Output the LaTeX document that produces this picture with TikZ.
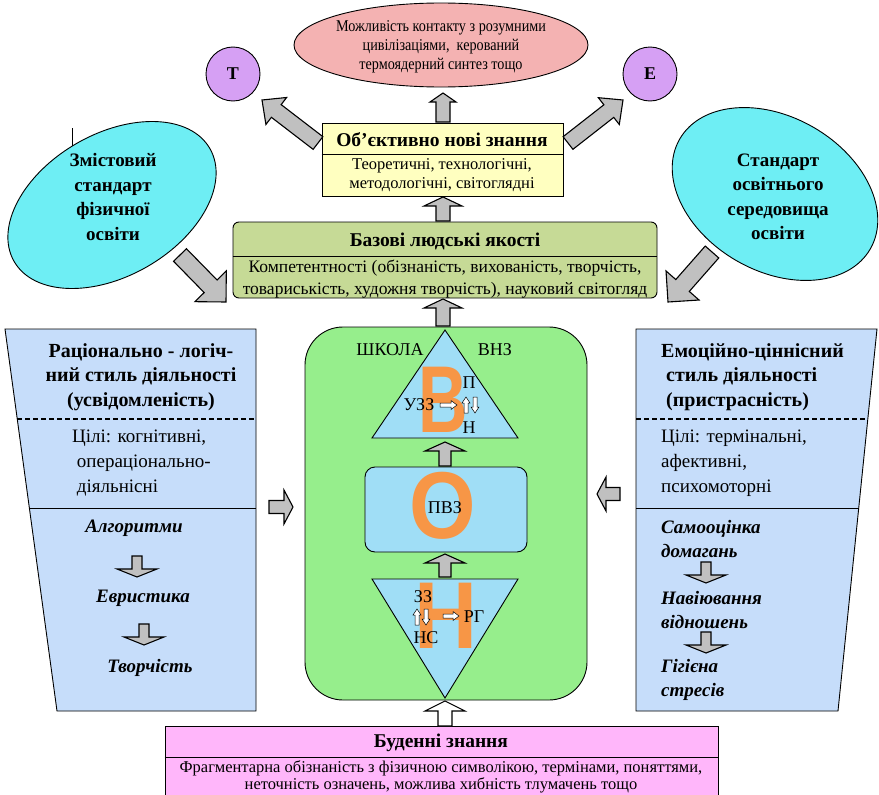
\documentclass[tikz,border=0pt]{standalone}
\usepackage{fontspec}
\setmainfont{Liberation Serif}
\newfontfamily\condfont[FakeStretch=0.86]{Liberation Serif}
\newfontfamily\bigsans{Liberation Sans}
\usetikzlibrary{shapes.geometric,calc}

\definecolor{pinkE}{RGB}{244,178,178}
\definecolor{violetC}{RGB}{214,160,244}
\definecolor{yellowB}{RGB}{255,255,192}
\definecolor{oliveB}{RGB}{198,218,150}
\definecolor{cyanE}{RGB}{110,238,244}
\definecolor{blueP}{RGB}{198,221,250}
\definecolor{greenC}{RGB}{150,238,140}
\definecolor{skyB}{RGB}{160,222,246}
\definecolor{orangeL}{RGB}{247,150,70}
\definecolor{pinkB}{RGB}{255,182,250}
\definecolor{arrgray}{RGB}{192,192,192}

% block arrow: [style]{from}{to}{shaft half}{head half}{head length}
\newcommand\blockarr[6][]{%
  \coordinate (ba-h) at ($(#3)!#6!(#2)$);
  \draw[#1] ($(#2)!#4!90:(#3)$) -- ($(ba-h)!#4!90:(#3)$) -- ($(ba-h)!#5!90:(#3)$)
    -- (#3) -- ($(ba-h)!#5!-90:(#3)$) -- ($(ba-h)!#4!-90:(#3)$) -- ($(#2)!#4!-90:(#3)$) -- cycle;}

\tikzset{
  box/.style={draw=black, line width=0.9pt},
  garrow/.style={draw=black, fill=arrgray, line width=1.1pt, line join=miter},
  warrow/.style={draw=black, fill=white, line width=1.1pt, line join=miter},
  tinyarr/.style={draw=black, fill=white, line width=0.5pt},
  txt/.style={inner sep=0pt, align=center},
  headf/.style={font=\bfseries\fontsize{19.5}{22}\selectfont},
  panelhead/.style={font=\bfseries\fontsize{20}{24.5}\selectfont},
  panelbody/.style={font=\fontsize{19}{25}\selectfont},
  panelit/.style={font=\bfseries\itshape\fontsize{19}{23.5}\selectfont},
  ellt/.style={font=\bfseries\fontsize{19}{24.5}\selectfont},
  bigletter/.style={text=orangeL, inner sep=0pt, font=\bigsans\bfseries\fontsize{95}{95}\selectfont},
  midf/.style={font=\fontsize{18}{20}\selectfont}
}

\begin{document}
\begin{tikzpicture}[x=1pt,y=-1pt]
\useasboundingbox (0,0) rectangle (879,795);
\fill[white] (0,0) rectangle (879,795);

% ---------- top ellipse and circles
\node[ellipse, box, fill=pinkE, minimum width=294pt, minimum height=84pt, inner sep=0pt] (goal) at (441,45) {};
\node[txt, font=\condfont\fontsize{16.5}{19}\selectfont] (goalt) at (441,47)
  {Можливість контакту з розумними\\цивілізаціями,\ \ керований\\термоядерний синтез тощо};
\node[circle, box, fill=violetC, minimum size=54pt, inner sep=0pt, font=\bfseries\fontsize{18}{18}\selectfont] (T) at (233,74) {Т};
\node[circle, box, fill=violetC, minimum size=54pt, inner sep=0pt, font=\bfseries\fontsize{18}{18}\selectfont] (E) at (650,74) {Е};

% ---------- top yellow box
\node[box, fill=yellowB, minimum width=241pt, minimum height=73pt, inner sep=0pt] (obj) at (442.5,159.5) {};
\draw[line width=0.8pt] ($(obj.north west)+(0,32)$) -- ($(obj.north east)+(0,32)$);
\node[txt, headf] (objh) at (442,140) {Об’єктивно нові знання};
\node[txt, font=\fontsize{16.5}{19}\selectfont] (objb) at (442,175) {Теоретичні, технологічні,\\методологічні, світоглядні};

% ---------- olive box
\node[box, fill=oliveB, rounded corners=6pt, minimum width=424pt, minimum height=76pt, inner sep=0pt] (base) at (445,260) {};
\draw[line width=0.8pt] ($(base.north west)+(0,35)$) -- ($(base.north east)+(0,35)$);
\node[txt, headf] (baseh) at (445,241) {Базові людські якості};
\node[txt, font=\fontsize{17.5}{22}\selectfont] (baseb) at (445,279) {Компетентності (обізнаність, вихованість, творчість,\\товариськість, художня творчість), науковий світогляд};

% ---------- cyan ellipses
\node[ellipse, box, fill=cyanE, minimum width=226pt, minimum height=142pt, rotate=30] (stdL) at (112,205) {};
\node[txt, ellt] (stdLt) at (113,197) {Змістовий\\стандарт\\фізичної\\освіти};
\draw[line width=1pt] (72,128) -- (72,146);
\node[ellipse, box, fill=cyanE, minimum width=220pt, minimum height=154pt, rotate=-30] (stdR) at (775,194) {};
\node[txt, ellt] (stdRt) at (778,197) {Стандарт\\освітнього\\середовища\\освіти};

% ---------- left panel
\draw[box, fill=blueP] (5,329) -- (256,329) -- (256,711) -- (57,711) -- cycle;
\draw[line width=1.3pt, dash pattern=on 5pt off 3pt] (17.3,419) -- (256,419);
\draw[line width=0.9pt] (29.4,508) -- (256,508);
\node[txt, panelhead] (lph) at (141,377) {Раціонально - логіч-\\ний стиль діяльності\\(усвідомленість)};
\node[txt, panelbody, anchor=west, align=left] (lpb) at (72,463) {Цілі: когнітивні,\\\ операціонально-\\\ діяльнісні};
\node[txt, panelit] (lpi1) at (134,528) {Алгоритми};
\node[txt, panelit] (lpi2) at (143,598) {Евристика};
\node[txt, panelit] (lpi3) at (150,668) {Творчість};

% ---------- right panel
\draw[box, fill=blueP] (636,329) -- (877,329) -- (838,711) -- (636,711) -- cycle;
\draw[line width=1.3pt, dash pattern=on 5pt off 3pt] (636,419) -- (867.8,419);
\draw[line width=0.9pt] (636,508) -- (858.7,508);
\node[txt, panelhead, anchor=west, align=left] (rph) at (661,377) {Емоційно-ціннісний\\\ стиль діяльності\\\ (пристрасність)};
\node[txt, panelbody, anchor=west, align=left] (rpb) at (661,463) {Цілі: термінальні,\\афективні,\\психомоторні};
\node[txt, panelit, anchor=west, align=left] (rpi1) at (661,539) {Самооцінка\\домагань};
\node[txt, panelit, anchor=west, align=left] (rpi2) at (661,610) {Навіювання\\відношень};
\node[txt, panelit, anchor=west, align=left] (rpi3) at (661,680) {Гігієна\\стресів};

% ---------- central green block
\node[box, fill=greenC, rounded corners=38pt, minimum width=282pt, minimum height=373pt, inner sep=0pt] (core) at (446,513.5) {};
\draw[box, fill=skyB] (445,330) -- (518,438) -- (372,438) -- cycle;
\node[box, fill=skyB, rounded corners=10pt, minimum width=162pt, minimum height=85pt, inner sep=0pt] (pvz) at (446,509.5) {};
\draw[box, fill=skyB] (372,579) -- (518,579) -- (445,698) -- cycle;

\node[bigletter, xscale=0.72] (bigV) at (443.5,400) {В};
\node[bigletter, xscale=0.9] (bigO) at (443,506) {О};
\node[bigletter, xscale=0.92] (bigN) at (446,616) {Н};

\node[txt, midf] (school) at (390,350) {ШКОЛА};
\node[txt, midf] (vnz) at (495,350) {ВНЗ};
\node[txt, midf] (pvzt) at (445,508) {ПВЗ};

\node[txt, midf] (uP) at (469,383) {П};
\node[txt, midf] (uUZZ) at (419,405) {УЗЗ};
\node[txt, midf] (uN) at (469,428) {Н};
\coordinate (ua1) at (440,405); \coordinate (ua2) at (457,405);
\blockarr[tinyarr]{ua1}{ua2}{2pt}{4.5pt}{6pt}
\coordinate (ub1) at (466,413); \coordinate (ub2) at (466,397);
\blockarr[tinyarr]{ub1}{ub2}{2pt}{4pt}{6pt}
\coordinate (uc1) at (475,397); \coordinate (uc2) at (475,413);
\blockarr[tinyarr]{uc1}{uc2}{2pt}{4pt}{6pt}

\node[txt, midf] (lZZ) at (423,597) {ЗЗ};
\node[txt, midf] (lRG) at (474,617) {РГ};
\node[txt, midf] (lNS) at (426,638) {НС};
\coordinate (la1) at (443,616); \coordinate (la2) at (459,616);
\blockarr[tinyarr]{la1}{la2}{2pt}{4.5pt}{6pt}
\coordinate (lb1) at (417,625); \coordinate (lb2) at (417,609);
\blockarr[tinyarr]{lb1}{lb2}{2pt}{4pt}{6pt}
\coordinate (lc1) at (426,609); \coordinate (lc2) at (426,625);
\blockarr[tinyarr]{lc1}{lc2}{2pt}{4pt}{6pt}

% ---------- bottom box
\node[box, fill=pinkB, minimum width=553pt, minimum height=69pt, inner sep=0pt] (daily) at (441.5,760.5) {};
\draw[line width=0.8pt] ($(daily.north west)+(0,32)$) -- ($(daily.north east)+(0,32)$);
\node[txt, headf] (dailyh) at (441,743) {Буденні знання};
\node[txt, font=\fontsize{16.5}{16.5}\selectfont] (dailyb) at (441,777) {Фрагментарна обізнаність з фізичною символікою, термінами, поняттями,\\неточність означень, можлива хибність тлумачень тощо};

% ---------- block arrows
\coordinate (a1s) at (443,122); \coordinate (a1e) at (443,93);
\blockarr[garrow]{a1s}{a1e}{7pt}{13pt}{9pt}
\coordinate (a2s) at (443,221); \coordinate (a2e) at (443,197);
\blockarr[garrow]{a2s}{a2e}{7pt}{19pt}{9pt}
\coordinate (a3s) at (443,326); \coordinate (a3e) at (443,299);
\blockarr[garrow]{a3s}{a3e}{7pt}{19pt}{9pt}
\coordinate (a4s) at (445,466); \coordinate (a4e) at (445,442);
\blockarr[garrow]{a4s}{a4e}{6pt}{20pt}{9pt}
\coordinate (a5s) at (445,577); \coordinate (a5e) at (445,554);
\blockarr[garrow]{a5s}{a5e}{6pt}{20pt}{9pt}
\coordinate (a6s) at (445,726); \coordinate (a6e) at (445,701);
\blockarr[warrow]{a6s}{a6e}{7pt}{20pt}{10pt}

\coordinate (dls) at (318,143); \coordinate (dle) at (262,100);
\blockarr[garrow]{dls}{dle}{8pt}{17pt}{18pt}
\coordinate (drs) at (568,143); \coordinate (dre) at (623,100);
\blockarr[garrow]{drs}{dre}{8pt}{17pt}{18pt}
\coordinate (els) at (180,255); \coordinate (ele) at (226,302);
\blockarr[garrow]{els}{ele}{9pt}{22pt}{22pt}
\coordinate (ers) at (712,252); \coordinate (ere) at (668,302);
\blockarr[garrow]{ers}{ere}{9pt}{22pt}{22pt}

\coordinate (sls) at (269,507); \coordinate (sle) at (293,507);
\blockarr[garrow]{sls}{sle}{6.5pt}{17pt}{9pt}
\coordinate (srs) at (620,494); \coordinate (sre) at (597,494);
\blockarr[garrow]{srs}{sre}{6.5pt}{17pt}{9pt}

\coordinate (p1s) at (137,556); \coordinate (p1e) at (137,577);
\blockarr[garrow]{p1s}{p1e}{5pt}{20pt}{8pt}
\coordinate (p2s) at (144,624); \coordinate (p2e) at (144,645);
\blockarr[garrow]{p2s}{p2e}{5pt}{20pt}{8pt}
\coordinate (p3s) at (706,562); \coordinate (p3e) at (706,583);
\blockarr[garrow]{p3s}{p3e}{5pt}{20pt}{8pt}
\coordinate (p4s) at (706,632); \coordinate (p4e) at (706,653);
\blockarr[garrow]{p4s}{p4e}{5pt}{20pt}{8pt}
\end{tikzpicture}
\end{document}
